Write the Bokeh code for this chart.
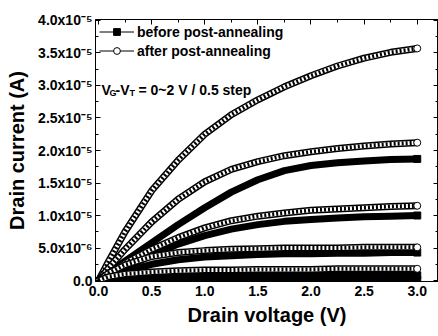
from bokeh.plotting import figure
from bokeh.models import (Range1d, FixedTicker, LinearAxis, Legend, LegendItem, Label,
                          CustomLabelingPolicy)
from bokeh.embed import file_html
from bokeh.resources import INLINE

# ---- data (drain current in units of 1e-5 A) ----
drain_voltage = [0, 0.1, 0.25, 0.5, 0.75, 1.0, 1.25, 1.5, 1.75, 2.0, 2.25, 2.5, 2.75, 3.0]

after_2p0 = [0, 0.31, 0.75, 1.38, 1.85, 2.25, 2.55, 2.78, 2.98, 3.15, 3.30, 3.42, 3.51, 3.57]
after_1p5 = [0, 0.20, 0.48, 0.90, 1.25, 1.52, 1.71, 1.83, 1.92, 1.98, 2.03, 2.07, 2.10, 2.12]
after_1p0 = [0, 0.12, 0.27, 0.48, 0.66, 0.81, 0.92, 0.99, 1.04, 1.08, 1.10, 1.12, 1.14, 1.15]
after_0p5 = [0, 0.12, 0.24, 0.37, 0.43, 0.46, 0.48, 0.49, 0.50, 0.50, 0.50, 0.51, 0.51, 0.51]
after_0p0 = [0, 0.06, 0.10, 0.13, 0.15, 0.16, 0.16, 0.17, 0.17, 0.17, 0.18, 0.18, 0.18, 0.18]

before_2p0 = [0, 0.12, 0.30, 0.58, 0.86, 1.12, 1.36, 1.55, 1.69, 1.77, 1.81, 1.84, 1.86, 1.87]
before_1p5 = [0, 0.08, 0.20, 0.39, 0.56, 0.69, 0.79, 0.86, 0.91, 0.94, 0.96, 0.98, 0.99, 1.00]
before_1p0 = [0, 0.06, 0.14, 0.25, 0.32, 0.36, 0.38, 0.40, 0.41, 0.41, 0.42, 0.42, 0.43, 0.43]
before_0p5 = [0, 0.03, 0.05, 0.06, 0.07, 0.07, 0.07, 0.07, 0.07, 0.08, 0.08, 0.08, 0.08, 0.08]
before_0p0 = [0, 0.005, 0.01, 0.01, 0.01, 0.01, 0.01, 0.01, 0.01, 0.01, 0.01, 0.01, 0.01, 0.01]

after_curves = [after_2p0, after_1p5, after_1p0, after_0p5, after_0p0]
before_curves = [before_2p0, before_1p5, before_1p0, before_0p5, before_0p0]

x_ticks = [0, 0.5, 1.0, 1.5, 2.0, 2.5, 3.0]
x_tick_labels = ["0.0", "0.5", "1.0", "1.5", "2.0", "2.5", "3.0"]
x_minor = [0.25, 0.75, 1.25, 1.75, 2.25, 2.75]
y_ticks = [0, 0.5, 1.0, 1.5, 2.0, 2.5, 3.0, 3.5, 4.0]
y_tick_labels = ["0.0", "5.0x10\u207b\u2076", "1.0x10\u207b\u2075", "1.5x10\u207b\u2075",
                 "2.0x10\u207b\u2075", "2.5x10\u207b\u2075", "3.0x10\u207b\u2075",
                 "3.5x10\u207b\u2075", "4.0x10\u207b\u2075"]
y_minor = [0.25, 0.75, 1.25, 1.75, 2.25, 2.75, 3.25, 3.75]

FONT = "Liberation Sans"

p = figure(width=438, height=336, x_range=Range1d(-0.028, 3.2), y_range=Range1d(-0.015, 4.015),
           output_backend="svg", toolbar_location=None,
           min_border_left=95, min_border_right=0, min_border_top=19, min_border_bottom=55,
           x_axis_label="Drain voltage (V)", y_axis_label="Drain current (A)")
p.grid.visible = False
p.outline_line_color = "black"
p.outline_line_width = 1
p.background_fill_color = "white"
p.border_fill_color = "white"

xt = FixedTicker(ticks=x_ticks, minor_ticks=x_minor)
yt = FixedTicker(ticks=y_ticks, minor_ticks=y_minor)
p.xaxis.ticker = xt
p.yaxis.ticker = yt
p.xaxis.major_label_overrides = dict(zip(x_ticks, x_tick_labels))
p.yaxis.major_label_overrides = dict(zip(y_ticks, y_tick_labels))

for ax in [p.xaxis[0], p.yaxis[0]]:
    ax.axis_line_color = "black"
    ax.major_tick_in = 5
    ax.major_tick_out = 0
    ax.minor_tick_in = 3
    ax.minor_tick_out = 0
    ax.major_label_text_font = FONT
    ax.major_label_text_font_style = "bold"
    ax.major_label_text_font_size = "14px"
    ax.major_label_text_color = "black"
    ax.axis_label_text_font = FONT
    ax.axis_label_text_font_style = "bold"
    ax.axis_label_text_font_size = "20px"
    ax.axis_label_text_color = "black"
p.xaxis.major_label_standoff = 4
p.xaxis.axis_label_standoff = 5
p.yaxis.major_label_standoff = 3
p.yaxis.axis_label_standoff = 7

no_labels = CustomLabelingPolicy(code="return new Set()")
for loc, tk in [("above", xt), ("right", yt)]:
    ax = LinearAxis(ticker=tk, major_label_text_font_size="0px", major_label_standoff=0,
                    major_label_policy=no_labels,
                    major_tick_in=5, major_tick_out=0, minor_tick_in=3, minor_tick_out=0,
                    axis_line_color="black")
    p.add_layout(ax, loc)

# before: solid black bands (dense filled squares)
legend_before = []
for i, ys in enumerate(before_curves):
    ln = p.line(drain_voltage, ys, line_color="black", line_width=1)
    p.line(drain_voltage, ys, line_color="black", line_width=7)
    sc = p.scatter(drain_voltage[-1:], ys[-1:], marker="square", size=7,
                   fill_color="black", line_color="black")
    if i == 0:
        legend_before = [ln, sc]

# after: bands of dense open circles, open circle at the end point
legend_after = []
for i, ys in enumerate(after_curves):
    ln = p.line(drain_voltage, ys, line_color="black", line_width=1)
    p.line(drain_voltage, ys, line_color="black", line_width=7)
    p.line(drain_voltage, ys, line_color="white", line_width=4)
    p.line(drain_voltage, ys, line_color="black", line_width=4, line_dash="2 2")
    sc = p.scatter(drain_voltage[-1:], ys[-1:], marker="circle", size=7, fill_color="white",
                   line_color="black", line_width=1)
    if i == 0:
        legend_after = [ln, sc]

legend = Legend(items=[LegendItem(label="before post-annealing", renderers=legend_before),
                       LegendItem(label="after post-annealing", renderers=legend_after)],
                location="top_left", margin=4, padding=0, spacing=2,
                glyph_width=35, glyph_height=17, label_height=17, label_standoff=3,
                label_text_font=FONT, label_text_font_style="bold", label_text_font_size="14px",
                label_text_color="black",
                border_line_alpha=0, background_fill_alpha=0)
p.add_layout(legend)

# annotation  V_G - V_T = 0~2 V / 0.5 step
ann = [("V", 6, 192, "14px"), ("G", 14, 189, "9px"), ("-V", 20, 192, "14px"),
       ("T", 34, 189, "9px"), ("= 0~2 V / 0.5 step", 43, 192, "14px")]
for txt, sx, sy, fs in ann:
    p.add_layout(Label(x=sx, y=sy, x_units="screen", y_units="screen", text=txt,
                       text_font=FONT, text_font_style="bold", text_font_size=fs,
                       text_color="black", text_baseline="alphabetic"))

open("out.html", "w").write(file_html(p, INLINE))
